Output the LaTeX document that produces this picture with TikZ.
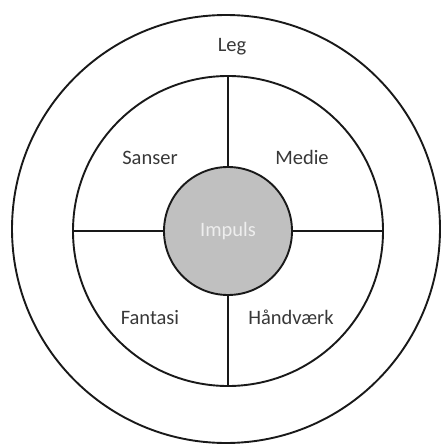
\documentclass[tikz,border=0pt]{standalone}
\usepackage{fontspec}
\setmainfont{Carlito}
\usepackage{tikz}
\usetikzlibrary{positioning}
\definecolor{LabelGray}{RGB}{56,56,56}
\definecolor{CoreGray}{RGB}{192,192,192}
\definecolor{CoreText}{RGB}{238,238,238}
\definecolor{RingLine}{RGB}{25,25,25}

\begin{document}
\begin{tikzpicture}[x=1pt,y=-1pt,
        ring/.style={circle,draw=RingLine,line width=1.9pt,inner sep=0pt,outer sep=0pt},
        core/.style={ring,fill=CoreGray,text=CoreText,font=\fontsize{20.5}{24}\selectfont},
        lbl/.style={text=LabelGray,font=\fontsize{20.5}{24}\selectfont,anchor=base},
        div/.style={draw=RingLine,line width=1.9pt}
      ]
        \useasboundingbox (0,0) rectangle (441,444);
        \node[ring,minimum size=428pt] (leg) at (226,229) {};
        \node[ring,minimum size=310pt] (felt) at (228,231) {};
        \node[core,minimum size=128pt] (impuls) at (228,231) {Impuls};
        \draw[div] (felt.north) -- (impuls.north);
        \draw[div] (impuls.south) -- (felt.south);
        \draw[div] (felt.west) -- (impuls.west);
        \draw[div] (impuls.east) -- (felt.east);
        \node[lbl] (leglbl) at (232,52) {Leg};
        \node[lbl] (sanser) at (150,164) {Sanser};
        \node[lbl] (medie) at (302,164) {Medie};
        \node[lbl] (fantasi) at (150,324) {Fantasi};
        \node[lbl] (haandvaerk) at (291,324) {Håndværk};
      \end{tikzpicture}
\end{document}
